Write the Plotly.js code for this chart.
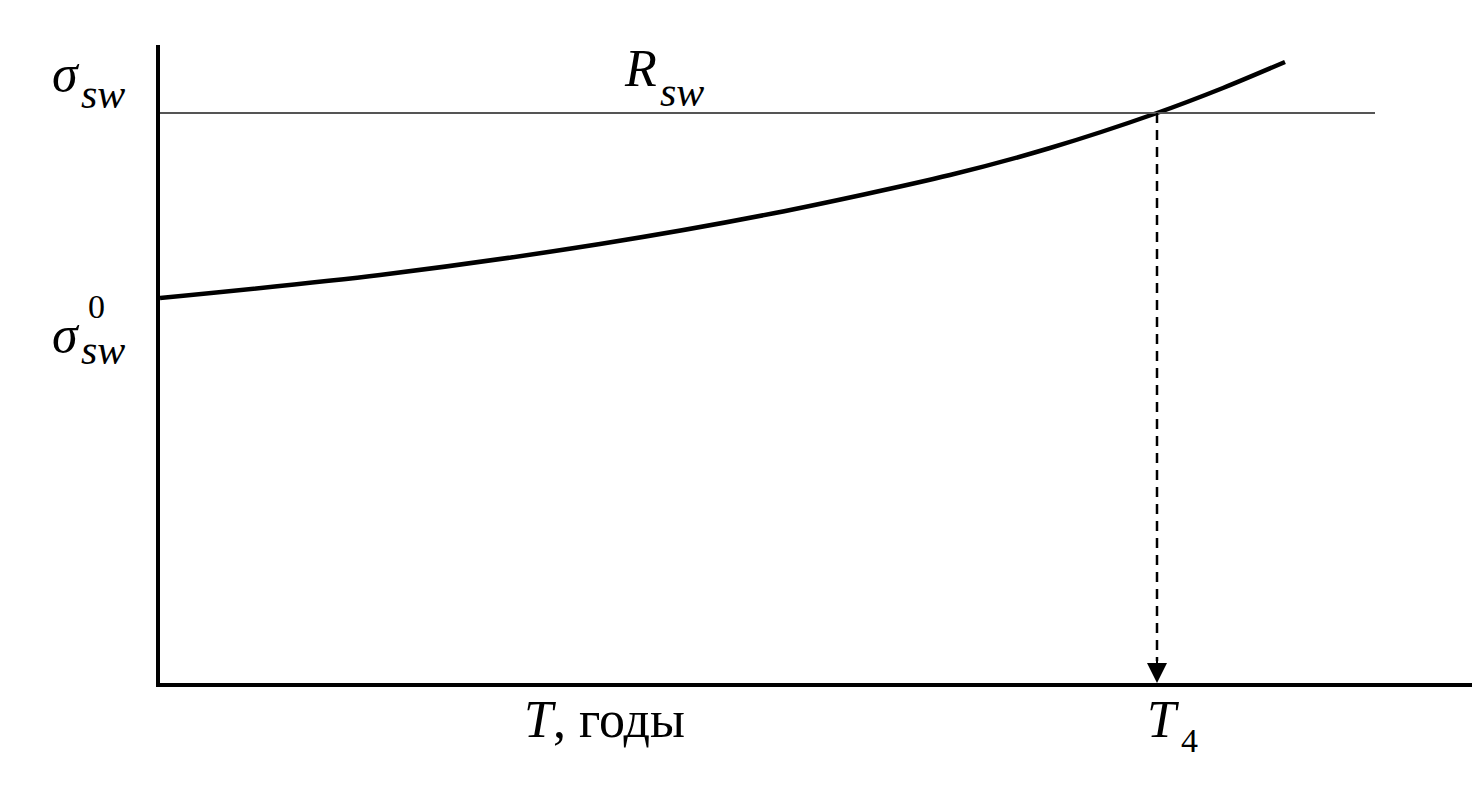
<!DOCTYPE html>
<html><head><meta charset="utf-8">
<script src="https://cdn.plot.ly/plotly-3.0.1.min.js"></script>
<style>html,body{margin:0;padding:0;background:#fff}#c{width:1472px;height:797px}</style>
</head><body><div id="c"></div>
<script>
// Stress curve sigma_sw(T) (schematic units)
const tValues = [0, 220, 440, 615, 790, 890, 997, 1063, 1125];
const sigmaValues = [385, 408, 439, 470, 508, 535, 570, 595, 621];
// Resistance level R_sw and its crossing time T4
const rswLevel = 570;
const rswEnd = 1215;
const t4 = 997;

const serif = "Liberation Serif, DejaVu Serif, serif";
const traces = [
  {x: tValues, y: sigmaValues, mode: 'lines', line: {color: '#000', width: 4.5, shape: 'spline', smoothing: 0.8}, hoverinfo: 'skip'},
  {x: [0, rswEnd], y: [rswLevel, rswLevel], mode: 'lines', line: {color: '#555', width: 2}, hoverinfo: 'skip'},
  {x: [t4, t4], y: [rswLevel, 22], mode: 'lines', line: {color: '#000', width: 2.5, dash: '10px,7px'}, hoverinfo: 'skip'}
];

// pixel -> paper helpers for label placement
const PX = x => (x - 160) / 1312;
const PY = y => (683 - y) / 638;
const big = {family: serif, size: 52, color: '#000'};
const sub = {family: serif, size: 42, color: '#000'};
function lab(x, y, text, font) {
  return {x: PX(x), y: PY(y), xref: 'paper', yref: 'paper', text: text, showarrow: false, font: font || big, xanchor: 'left', yanchor: 'middle'};
}
const ann = [
  {x: t4, y: 0, ax: t4, ay: 26, axref: 'x', ayref: 'y', xref: 'x', yref: 'y', showarrow: true, arrowhead: 2, arrowsize: 2, arrowwidth: 2, arrowcolor: '#000', standoff: 0, text: ''},
  lab(50, 74, '<i>σ</i>'),
  lab(79, 94, '<i>sw</i>', sub),
  lab(50, 334, '<i>σ</i>'),
  lab(86, 306, '0', {family: serif, size: 34, color: '#000'}),
  lab(79, 350, '<i>sw</i>', sub),
  lab(622, 69, '<i>R</i>'),
  lab(658, 92, '<i>sw</i>', sub),
  lab(522, 719, '<i>T</i>, годы'),
  lab(1145, 719, '<i>T</i>'),
  lab(1179, 740, '4', {family: serif, size: 34, color: '#000'})
];

const layout = {
  width: 1472, height: 797,
  margin: {l: 160, r: 0, t: 45, b: 114},
  paper_bgcolor: '#fff', plot_bgcolor: '#fff',
  showlegend: false,
  xaxis: {range: [0, 1312], showgrid: false, zeroline: false, showticklabels: false, ticks: '', showline: true, linecolor: '#000', linewidth: 4, fixedrange: true},
  yaxis: {range: [0, 638], showgrid: false, zeroline: false, showticklabels: false, ticks: '', showline: true, linecolor: '#000', linewidth: 4, fixedrange: true},
  annotations: ann
};
Plotly.newPlot('c', traces, layout, {displayModeBar: false, staticPlot: true});
</script></body></html>
